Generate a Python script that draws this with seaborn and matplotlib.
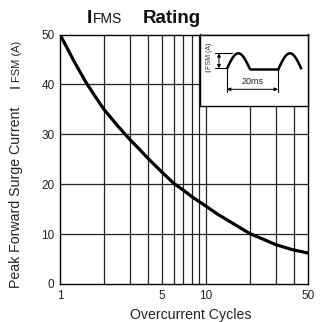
import numpy as np
import pandas as pd
import matplotlib
matplotlib.use("Agg")
import matplotlib.pyplot as plt
import seaborn as sns

# ---- data ----
cycles = [1, 1.25, 1.5, 1.75, 2, 2.5, 3, 3.5, 4, 5, 6, 7, 8, 9, 10,
          12, 15, 20, 25, 30, 35, 40, 45, 50]
ifsm = [50, 44.6, 40.5, 37.5, 35, 31.6, 29, 27, 25.2, 22.4, 20.2, 18.8, 17.5,
        16.5, 15.6, 14.0, 12.3, 10.1, 8.9, 7.9, 7.3, 6.8, 6.5, 6.2]
x_ticks = [1, 5, 10, 50]
y_ticks = [0, 10, 20, 30, 40, 50]
x_grid = [2, 3, 4, 5, 6, 7, 8, 9, 10, 20, 30, 40]
y_grid = [10, 20, 30, 40]

sns.set_theme(style="white")
plt.rcParams['font.family'] = ['Liberation Sans', 'DejaVu Sans']

W, H = 331, 322
fig = plt.figure(figsize=(W / 100, H / 100), dpi=100)

def fx(px):
    return px / W

def fy(py):
    return (H - py) / H

L, R, T, B = 60, 308, 34.5, 284
ax = fig.add_axes([fx(L), fy(B), fx(R) - fx(L), fy(T) - fy(B)])

df = pd.DataFrame({"cycles": cycles, "ifsm": ifsm})
sns.lineplot(data=df, x="cycles", y="ifsm", ax=ax, color="black", lw=2.3, zorder=5)

ax.set_xscale("log")
ax.set_xlim(1, 50)
ax.set_ylim(0, 50)
for g in x_grid:
    ax.axvline(g, color="#222222", lw=0.9, zorder=1)
for g in y_grid:
    ax.axhline(g, color="#222222", lw=0.9, zorder=1)

ax.set_xticks(x_ticks)
ax.set_xticklabels([str(t) for t in x_ticks])
ax.xaxis.set_minor_locator(matplotlib.ticker.NullLocator())
ax.set_yticks(y_ticks)
ax.tick_params(axis="both", length=0, labelsize=8.5, colors="#222222", pad=4)
ax.set_xlabel("")
ax.set_ylabel("")
for s in ax.spines.values():
    s.set_color("black")
    s.set_linewidth(1.0)

# axis labels
fig.text(fx(191), fy(315.5), "Overcurrent Cycles", ha="center", va="center",
         fontsize=10.2, color="#222222")
ylab_kw = dict(rotation=90, rotation_mode="anchor", ha="left", va="baseline",
               color="#222222")
fig.text(fx(20), fy(288), "Peak Forward Surge Current", fontsize=10.2, **ylab_kw)
fig.text(fx(20), fy(88), "I", fontsize=10.5, **ylab_kw)
fig.text(fx(20), fy(82.5), "FSM (A)", fontsize=8.0, **ylab_kw)

# title
fig.text(fx(87), fy(23), "I", ha="left", va="baseline", fontsize=14,
         fontweight="bold", color="#111111")
fig.text(fx(93), fy(23), "FMS", ha="left", va="baseline", fontsize=10,
         color="#111111")
fig.text(fx(143), fy(23), "Rating", ha="left", va="baseline", fontsize=13.5,
         fontweight="bold", color="#111111")

# inset schematic
iL, iR, iT, iB = 199.5, 308, 34.5, 106
ins = fig.add_axes([fx(iL), fy(iB), fx(iR) - fx(iL), fy(iT) - fy(iB)], zorder=10)
ins.set_facecolor("white")
ins.set_xlim(iL, iR)
ins.set_ylim(iB, iT)
ins.set_xticks([])
ins.set_yticks([])
for s in ins.spines.values():
    s.set_color("black")
    s.set_linewidth(1.0)

base, peak = 69.3, 53.3
t = np.linspace(0, 1, 40)
for x0 in (226.7, 278.3):
    ins.plot(x0 + t * 23.3, base - (base - peak) * np.sin(np.pi * t), color="black", lw=1.8,
             solid_capstyle="butt")
ins.plot([250, 278.3], [base, base], color="black", lw=1.8)

# IFSM marker
ins.plot([215, 231.7], [peak, peak], color="black", lw=0.8)
ins.plot([215, 225], [68.3, 68.3], color="black", lw=0.8)
ins.annotate("", xy=(219, peak), xytext=(219, 68.3),
             arrowprops=dict(arrowstyle="<|-|>", color="black", lw=0.7,
                             mutation_scale=5, shrinkA=0, shrinkB=0))
ins_kw = dict(rotation=90, rotation_mode="anchor", ha="left", va="baseline",
              color="#333333")
ins.text(211, 72, "I", fontsize=6.3, **ins_kw)
ins.text(211, 69.5, "FSM (A)", fontsize=5.0, **ins_kw)

# 20ms marker
for xv in (227, 278):
    ins.plot([xv, xv], [base, 91.7], color="black", lw=0.8)
ins.annotate("", xy=(227, 89.3), xytext=(278, 89.3),
             arrowprops=dict(arrowstyle="<|-|>", color="black", lw=0.7,
                             mutation_scale=5, shrinkA=0, shrinkB=0))
ins.text(252.5, 81.5, "20ms", ha="center", va="center", fontsize=6.5, color="#222222")

fig.savefig("out.png", dpi=100)
